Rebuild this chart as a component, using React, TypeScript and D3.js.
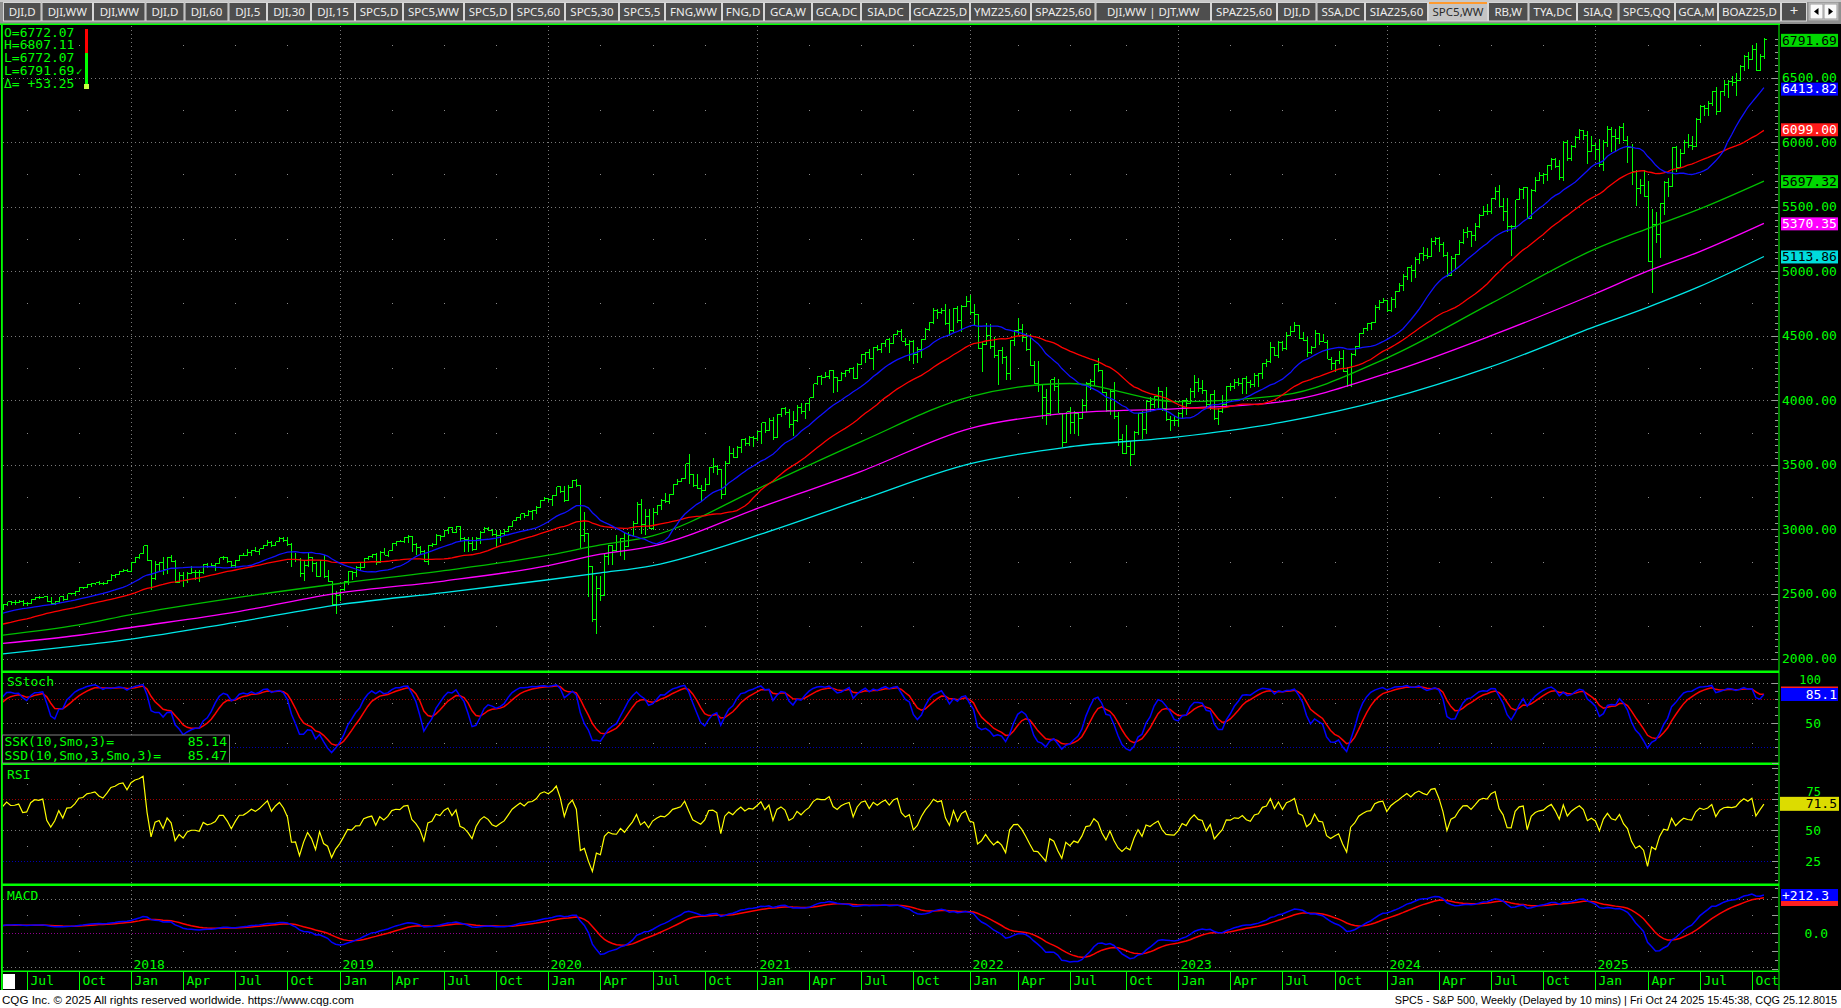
import React, { useMemo } from "react";
import * as d3 from "d3";

// ================= DATA =================
// Weekly bars (Fridays), first bar 2016-08-19 (early bars are warm-up, off-screen left)
const FIRST_BAR = "2016-08-19";

const C16 = [2184,2169,2180,2128,2139,2165,2168,2153,2133,2141,2126,2085,2164,2182,2213,2192,2260,2258,2264,2239];
const H16 = [2193,2188,2184,2188,2150,2176,2175,2170,2161,2147,2151,2128,2182,2189,2214,2214,2260,2278,2273,2273];
const L16 = [2173,2160,2157,2127,2119,2137,2145,2142,2114,2124,2122,2083,2084,2151,2183,2187,2192,2248,2256,2233];

const C17 = [2277,2275,2271,2295,2297,2316,2351,2367,2383,2372,2378,2344,2363,2355,2329,2349,2384,2399,2391,2382,2416,2439,2432,2433,2438,2423,2425,2459,2473,2472,2477,2441,2426,2443,2477,2461,2500,2502,2519,2549,2553,2575,2581,2588,2582,2579,2603,2642,2652,2675,2684,2674];
const H17 = [2282,2279,2276,2301,2299,2319,2352,2368,2401,2382,2390,2382,2371,2378,2359,2361,2398,2400,2404,2406,2419,2440,2446,2454,2453,2450,2436,2463,2479,2484,2480,2480,2474,2448,2480,2475,2500,2508,2520,2553,2557,2575,2582,2588,2598,2591,2605,2657,2652,2680,2695,2692];
const L17 = [2245,2258,2258,2267,2267,2287,2311,2348,2359,2359,2360,2336,2322,2344,2328,2322,2356,2380,2386,2353,2386,2407,2415,2418,2429,2405,2407,2420,2456,2460,2466,2437,2417,2418,2428,2446,2462,2495,2488,2519,2541,2547,2555,2566,2566,2566,2576,2601,2624,2650,2677,2673];

const C18 = [2743,2786,2810,2873,2762,2620,2732,2747,2691,2786,2752,2588,2641,2604,2656,2670,2670,2663,2728,2713,2721,2735,2779,2780,2755,2718,2760,2801,2802,2819,2840,2833,2850,2875,2902,2872,2905,2930,2914,2886,2767,2768,2659,2723,2781,2736,2633,2760,2633,2600,2417,2486];
const H18 = [2744,2787,2811,2873,2870,2763,2754,2747,2789,2786,2802,2761,2674,2672,2674,2718,2683,2682,2732,2742,2742,2739,2779,2791,2789,2752,2764,2804,2816,2848,2841,2863,2852,2877,2916,2907,2906,2941,2940,2940,2895,2817,2778,2767,2816,2788,2746,2760,2800,2685,2601,2520];
const L18 = [2683,2737,2768,2808,2759,2533,2605,2679,2647,2658,2749,2585,2594,2553,2586,2654,2612,2594,2653,2701,2707,2676,2735,2764,2742,2698,2699,2764,2796,2802,2795,2825,2802,2850,2876,2864,2871,2901,2903,2874,2710,2749,2628,2603,2710,2671,2631,2649,2621,2593,2409,2346];

const C19 = [2532,2596,2671,2665,2707,2708,2776,2793,2804,2743,2822,2801,2834,2893,2907,2905,2940,2946,2881,2860,2826,2752,2873,2887,2950,2942,2990,3014,2977,3026,2932,2919,2889,2847,2926,2979,3007,2992,2962,2952,2970,2986,3023,3067,3093,3120,3110,3141,3146,3169,3221,3240];
const H19 = [2539,2604,2675,2681,2716,2738,2776,2794,2813,2816,2831,2860,2836,2894,2910,2918,2940,2954,2932,2892,2875,2840,2876,2895,2964,2959,2996,3017,3018,3028,3027,2945,2943,2939,2941,2985,3021,3022,3003,2992,2993,3000,3027,3067,3097,3121,3127,3154,3150,3183,3226,3248];
const L19 = [2443,2524,2570,2612,2631,2677,2703,2764,2775,2723,2737,2800,2785,2849,2873,2899,2894,2898,2825,2801,2805,2750,2728,2861,2885,2911,2963,2967,2972,2970,2914,2822,2825,2834,2853,2891,2975,2985,2946,2856,2892,2960,2994,3023,3066,3075,3091,3111,3070,3119,3183,3222];

const C20 = [3235,3265,3330,3295,3226,3328,3380,3338,2954,2972,2711,2305,2541,2489,2790,2875,2837,2831,2930,2864,2955,3044,3194,3041,3098,3009,3130,3185,3225,3216,3271,3351,3373,3397,3508,3427,3341,3319,3298,3348,3477,3484,3465,3270,3510,3585,3558,3638,3699,3663,3709,3703,3756];
const H20 = [3246,3268,3330,3338,3333,3347,3385,3393,3260,3137,2882,2562,2637,2641,2819,2880,2870,2955,2933,2969,2980,3068,3211,3233,3156,3155,3166,3190,3238,3280,3272,3352,3387,3399,3509,3588,3425,3429,3343,3397,3482,3550,3502,3465,3529,3646,3628,3646,3701,3712,3726,3723,3760];
const L20 = [3213,3181,3256,3280,3214,3226,3324,3328,2855,2901,2479,2281,2192,2447,2493,2727,2727,2822,2798,2766,2912,2984,3044,2966,2958,3004,2999,3115,3153,3201,3198,3285,3345,3365,3387,3349,3330,3313,3209,3323,3354,3441,3424,3233,3279,3511,3550,3564,3594,3645,3648,3636,3687];

const C21 = [3825,3768,3841,3714,3887,3934,3907,3811,3842,3943,3913,3975,4020,4129,4185,4180,4181,4233,4174,4156,4204,4230,4247,4166,4281,4352,4370,4327,4412,4395,4437,4468,4442,4509,4535,4459,4433,4455,4357,4391,4471,4545,4605,4698,4683,4698,4595,4538,4712,4621,4726,4766];
const H21 = [3826,3819,3861,3870,3894,3937,3950,3931,3914,3960,3983,3978,4020,4129,4191,4194,4218,4238,4236,4172,4218,4234,4249,4258,4287,4356,4372,4394,4415,4430,4441,4470,4481,4513,4545,4549,4486,4465,4466,4412,4475,4559,4608,4718,4707,4714,4743,4705,4713,4731,4740,4808];
const L21 = [3663,3750,3770,3694,3725,3874,3885,3789,3723,3831,3894,3853,3917,4034,4122,4118,4177,4168,4057,4062,4146,4184,4208,4164,4167,4271,4289,4322,4233,4380,4368,4416,4368,4436,4507,4456,4421,4305,4278,4288,4329,4465,4538,4595,4631,4672,4586,4495,4532,4600,4531,4723];

const C22 = [4677,4663,4398,4432,4501,4419,4349,4385,4329,4204,4463,4543,4546,4488,4393,4272,4132,4123,4024,3901,4158,4109,3901,3675,3912,3825,3899,3863,3962,4130,4145,4280,4228,4058,3924,4067,3873,3693,3586,3640,3583,3753,3901,3771,3993,3965,4026,4072,3934,3852,3845,3840];
const H22 = [4819,4749,4665,4453,4596,4590,4490,4386,4416,4347,4466,4546,4637,4593,4520,4513,4308,4307,4119,4090,4158,4177,4169,3837,3913,3950,3918,3884,4012,4140,4167,4280,4325,4218,4062,4077,4140,3907,3736,3806,3685,3762,3905,3920,4001,4029,4034,4100,4053,4101,3876,3878];
const L22 = [4662,4582,4396,4222,4451,4401,4327,4115,4279,4157,4161,4424,4507,4450,4381,4267,4124,4063,3859,3811,3876,4074,3901,3637,3705,3739,3743,3721,3861,3911,4080,4112,4218,4057,3907,3886,3857,3647,3584,3584,3492,3647,3733,3699,3737,3906,3937,3940,3919,3839,3764,3800];

const C23 = [3895,3999,3973,4071,4136,4090,4079,3970,4046,3862,3917,3971,4109,4105,4138,4133,4169,4136,4124,4192,4205,4282,4299,4410,4348,4450,4399,4505,4536,4582,4478,4464,4370,4406,4516,4457,4450,4320,4288,4309,4327,4224,4117,4358,4415,4514,4559,4595,4604,4719,4755,4770];
const H23 = [3906,4003,4015,4095,4195,4176,4156,4079,4048,4079,3937,4039,4110,4133,4164,4170,4170,4186,4155,4212,4212,4291,4323,4448,4409,4458,4456,4528,4578,4607,4584,4527,4490,4418,4541,4516,4511,4465,4339,4314,4385,4393,4259,4366,4418,4521,4560,4599,4609,4739,4778,4793];
const L23 = [3795,3852,3886,3968,4015,4061,4047,3943,3928,3847,3808,3901,3949,4069,4086,4114,4050,4048,4099,4104,4103,4166,4262,4289,4341,4328,4385,4389,4500,4528,4474,4458,4335,4356,4403,4431,4448,4318,4238,4216,4283,4223,4104,4103,4341,4406,4511,4537,4546,4600,4697,4750];

const C24 = [4697,4784,4840,4891,4959,5027,5006,5089,5137,5124,5117,5234,5254,5204,5123,4967,5100,5128,5223,5303,5305,5278,5347,5432,5465,5460,5567,5615,5505,5459,5346,5344,5554,5634,5648,5408,5626,5703,5738,5751,5815,5864,5808,5729,5995,5870,5969,6032,6090,6051,5931,5971];
const H24 = [4754,4803,4843,4907,4975,5030,5048,5111,5140,5189,5180,5261,5265,5264,5225,5150,5114,5134,5240,5325,5342,5315,5376,5447,5506,5524,5570,5655,5670,5566,5566,5358,5555,5643,5651,5651,5636,5733,5767,5763,5822,5879,5878,5862,6012,6018,5978,6044,6099,6085,6085,6050];
const L24 = [4682,4687,4714,4845,4843,4934,4920,4946,5057,5080,5091,5111,5203,5146,5107,4953,4963,5011,5125,5211,5257,5191,5234,5331,5429,5432,5446,5550,5497,5390,5306,5119,5330,5560,5560,5402,5406,5615,5703,5674,5696,5784,5796,5703,5696,5853,5853,5957,6016,6015,5832,5930];

const C25 = [5942,5827,5997,6101,6040,6026,6114,6013,5955,5770,5639,5667,5581,5074,5363,5282,5525,5686,5660,5958,5803,5912,6000,5977,5967,6173,6279,6260,6297,6389,6238,6389,6450,6466,6460,6481,6584,6664,6643,6715,6552,6664,6791.69];
const H25 = [5993,6021,6014,6128,6120,6101,6127,6147,6044,5986,5782,5716,5786,5695,5482,5459,5528,5700,5721,5959,5968,5944,6016,6059,6051,6187,6284,6290,6315,6395,6427,6395,6481,6479,6509,6532,6601,6672,6699,6750,6764,6681,6807.11];
const L25 = [5858,5809,5773,5963,5923,5923,5986,6008,5837,5667,5505,5597,5573,5069,4835,5220,5101,5433,5578,5775,5768,5842,5917,5952,5939,5982,6146,6201,6201,6281,6212,6252,6359,6344,6437,6360,6482,6552,6569,6634,6550,6550,6646];

const MA_DATES = ["2017-05-26","2017-10-06","2018-01-05","2018-07-06","2019-01-04","2019-07-05","2020-01-03","2020-04-03","2020-07-03","2021-01-08","2021-07-02","2022-01-07","2022-07-01","2023-01-06","2023-07-07","2024-01-05","2024-07-05","2025-01-03","2025-04-04","2025-07-03","2025-10-24"];
const GREEN_MA = [2181,2260,2340,2470,2581,2680,2800,2880,2950,3326,3680,4027,4130,3990,4040,4327,4750,5172,5330,5480,5697.32];
const MAGENTA_MA = [2117,2180,2240,2360,2508,2600,2720,2808,2870,3172,3450,3781,3900,3936,3990,4208,4500,4827,5000,5150,5370.35];
const CYAN_MA = [2035,2100,2150,2280,2417,2510,2610,2663,2720,2963,3230,3508,3640,3717,3830,4008,4260,4572,4720,4880,5113.86];

// Readouts shown on the chart
const OHLC_READOUT = ["O=6772.07", "H=6807.11", "L=6772.07", "L=6791.69", "\u0394= +53.25"];
const LAST_PRICE = 6791.69;
const MA_LAST = [6413.82, 6099.0, 5697.32, 5370.35, 5113.86];
const SSK_LAST = 85.14;
const SSD_LAST = 85.47;
const RSI_LAST = 71.5;
const MACD_LAST = 212.3;
const MACD_SIG_LAST = 190;

const PRICE_TICKS = [2000, 2500, 3000, 3500, 4000, 4500, 5000, 5500, 6000, 6500];
const MONTH_NAMES = ["Jan", "", "", "Apr", "", "", "Jul", "", "", "Oct", "", ""];

const TAB_LABELS = ["DJI,D","DJI,WW","DJI,WW","DJI,D","DJI,60","DJI,5","DJI,30","DJI,15","SPC5,D","SPC5,WW","SPC5,D","SPC5,60","SPC5,30","SPC5,5","FNG,WW","FNG,D","GCA,W","GCA,DC","SIA,DC","GCAZ25,D","YMZ25,60","SPAZ25,60","DJI,WW  |  DJT,WW","SPAZ25,60","DJI,D","SSA,DC","SIAZ25,60","SPC5,WW","RB,W","TYA,DC","SIA,Q","SPC5,QQ","GCA,M","BOAZ25,D","+"];
const TAB_WIDTHS = [38.5,51.5,52.5,39,44,38.5,44,44,48,61,48,53,54,46,57,42,48,49,49,60,61,64.5,115.5,66,39.5,48.5,63,60,40.5,48.5,41.5,56.5,43,63,26];
const ACTIVE_TAB = 27;

const FOOTER_LEFT = "CQG Inc. \u00a9 2025 All rights reserved worldwide. https://www.cqg.com";
const FOOTER_RIGHT = "SPC5 - S&P 500, Weekly (Delayed by 10 mins) | Fri Oct 24 2025 15:45:38, CQG 25.12.8015";

// ================= HELPERS =================
const MONO = "'DejaVu Sans Mono', monospace";
const UI = "'Noto Sans', 'DejaVu Sans', sans-serif";
const NARROW = "'Liberation Sans Narrow', 'Liberation Sans', sans-serif";
const GREEN = "#00ff00";

function smaCalc(a: number[], n: number) {
  return a.map((_, i) => (i < n - 1 ? null : (d3.sum(a.slice(i - n + 1, i + 1)) as number) / n));
}
function emaCalc(a: number[], n: number) {
  const k = 2 / (n + 1);
  let e = a[0];
  return a.map((v, i) => (e = i === 0 ? v : k * v + (1 - k) * e));
}
function smoCalc(a: (number | null)[], n: number) {
  let e: number | null = null;
  return a.map((v) => {
    if (v == null) return null;
    e = e == null ? v : (e * (n - 1) + v) / n;
    return e;
  });
}
function rsiCalc(c: number[], n: number) {
  const out: (number | null)[] = c.map(() => null);
  let ag = 0, al = 0;
  for (let i = 1; i < c.length; i++) {
    const d = c[i] - c[i - 1];
    const g = Math.max(d, 0), l = Math.max(-d, 0);
    if (i <= n) {
      ag += g / n; al += l / n;
      if (i === n) out[i] = 100 - 100 / (1 + ag / (al || 1e-9));
    } else {
      ag = (ag * (n - 1) + g) / n; al = (al * (n - 1) + l) / n;
      out[i] = 100 - 100 / (1 + ag / (al || 1e-9));
    }
  }
  return out;
}

export default function App() {
  const m = useMemo(() => {
    const parse = d3.timeParse("%Y-%m-%d");
    const closes = [...C16, ...C17, ...C18, ...C19, ...C20, ...C21, ...C22, ...C23, ...C24, ...C25];
    const highsR = [...H16, ...H17, ...H18, ...H19, ...H20, ...H21, ...H22, ...H23, ...H24, ...H25];
    const lowsR = [...L16, ...L17, ...L18, ...L19, ...L20, ...L21, ...L22, ...L23, ...L24, ...L25];
    const n = Math.min(closes.length, highsR.length, lowsR.length);
    const start = parse(FIRST_BAR) as Date;
    const dates = d3.range(n).map((i) => d3.timeDay.offset(start, 7 * i));
    const opens = closes.slice(0, n).map((c, i) => (i === 0 ? c : closes[i - 1]));
    const highs = highsR.slice(0, n).map((h, i) => Math.max(h, opens[i], closes[i]));
    const lows = lowsR.slice(0, n).map((l, i) => Math.min(l, opens[i], closes[i]));
    const cl = closes.slice(0, n);

    const x = d3.scaleTime().domain([parse("2018-01-05") as Date, parse("2025-01-03") as Date]).range([131, 1595.4]);
    const yP = d3.scaleLinear().domain([2000, 6500]).range([658.5, 77.5]);
    const yS = d3.scaleLinear().domain([0, 100]).range([763, 683]);
    const yR = d3.scaleLinear().domain([25, 75]).range([861, 799]);
    const yM = d3.scaleLinear().domain([0, 212.3]).range([933, 895]);

    // bars path
    let bp = "";
    for (let i = 0; i < n; i++) {
      const xi = Math.round(x(dates[i])) + 0.5;
      if (xi < 0) continue;
      bp += `M${xi},${yP(highs[i]).toFixed(1)}V${yP(lows[i]).toFixed(1)}`;
      bp += `M${xi - 2.5},${yP(opens[i]).toFixed(1)}H${xi}`;
      bp += `M${xi},${yP(closes[i]).toFixed(1)}H${xi + 2.5}`;
    }

    const sma20 = smaCalc(cl, 20);
    const sma40 = smaCalc(cl, 40);

    const lineGen = (ys: d3.ScaleLinear<number, number>, vals: (number | null)[]) =>
      d3.line<number>()
        .defined((i) => vals[i] != null)
        .x((i) => x(dates[i]))
        .y((i) => ys(vals[i] as number))(d3.range(n)) || "";

    const maDates = MA_DATES.map((d) => parse(d) as Date);
    const sampled = (vals: number[]) =>
      d3.line<number>().curve(d3.curveMonotoneX).x((i) => x(maDates[i])).y((i) => yP(vals[i]))(d3.range(vals.length)) || "";

    const rawK = cl.map((c, i) => {
      if (i < 9) return null;
      const hh = d3.max(highs.slice(i - 9, i + 1)) as number;
      const ll = d3.min(lows.slice(i - 9, i + 1)) as number;
      return hh === ll ? 50 : ((c - ll) / (hh - ll)) * 100;
    });
    const ssk = smoCalc(rawK, 3);
    const ssd = smoCalc(ssk, 3);
    const rsi = rsiCalc(cl, 10);
    const e12 = emaCalc(cl, 12), e26 = emaCalc(cl, 26);
    const macd = e12.map((v, i) => v - e26[i]);
    const sig = emaCalc(macd, 9);

    // month ticks
    const ticks: { x: number; m: number; y: number }[] = [];
    for (let i = 1; i < n; i++) {
      const mo = dates[i].getMonth();
      if (mo !== dates[i - 1].getMonth() && mo % 3 === 0) {
        const xi = Math.round(x(dates[i])) + 0.5;
        if (xi > 4 && xi < 1778) ticks.push({ x: xi, m: mo, y: dates[i].getFullYear() });
      }
    }

    return {
      bp, x, yP, yS, yR, yM, ticks,
      blue: lineGen(yP, sma20), red: lineGen(yP, sma40),
      green: sampled(GREEN_MA), magenta: sampled(MAGENTA_MA), cyan: sampled(CYAN_MA),
      sskP: lineGen(yS, ssk), ssdP: lineGen(yS, ssd), rsiP: lineGen(yR, rsi),
      macdP: lineGen(yM, macd), sigP: lineGen(yM, sig),
    };
  }, []);

  const { yP, yS, yR, yM, ticks } = m;
  const dotted = "#7a7a7a";

  // tabs
  let tx = 3;
  const tabs = TAB_LABELS.map((lab, i) => {
    const w = TAB_WIDTHS[i];
    const t = { lab, x: tx, w, active: i === ACTIVE_TAB };
    tx += w;
    return t;
  });

  const priceLevelsHalf = d3.range(2250, 6800, 500);
  const minorPrice = d3.range(2000, 6801, 50);

  const priceBoxes = [
    { v: LAST_PRICE, fill: "#00d800", text: "#000" },
    { v: MA_LAST[0], fill: "#0000ff", text: "#fff" },
    { v: MA_LAST[1], fill: "#ff1a1a", text: "#fff" },
    { v: MA_LAST[2], fill: "#00d800", text: "#000" },
    { v: MA_LAST[3], fill: "#ff00ff", text: "#fff" },
    { v: MA_LAST[4], fill: "#00dcdc", text: "#000" },
  ];

  return (
    <svg width={1841} height={1008} style={{ position: "absolute", left: 0, top: 0, display: "block" }}>
      <style>{"body{margin:0;background:#000}"}</style>
      <defs>
        <clipPath id="cpP"><rect x={3} y={25} width={1776} height={646} /></clipPath>
        <clipPath id="cpS"><rect x={3} y={673} width={1776} height={90} /></clipPath>
        <clipPath id="cpR"><rect x={3} y={765} width={1776} height={119} /></clipPath>
        <clipPath id="cpM"><rect x={3} y={886} width={1776} height={84} /></clipPath>
      </defs>
      <rect x={0} y={0} width={1841} height={1008} fill="#000" />

      {/* ---------- tab bar ---------- */}
      <rect x={0} y={0} width={1841} height={24} fill="#8e8e8e" />
      <rect x={0} y={0} width={1841} height={2} fill="#c8c8c8" />
      {tabs.map((t, i) => (
        <g key={i}>
          <rect x={t.x + 0.5} y={2.5} width={t.w - 1} height={18.5} fill={t.active ? "#c4c4c4" : "#4e4e4e"} stroke="#d6d6d6" strokeWidth={1} />
          {t.active && <rect x={t.x + 1} y={2} width={t.w - 2} height={2} fill="#ff9a2e" />}
          <text x={t.x + t.w / 2} y={16} textAnchor="middle" fontFamily={UI} fontSize={i === TAB_LABELS.length - 1 ? 15 : 11.5} fill={t.active ? "#2a2a2a" : "#ececec"}>{t.lab}</text>
        </g>
      ))}
      <rect x={1809} y={3} width={29} height={17} fill="#efefef" stroke="#b0b0b0" />
      <rect x={1810} y={4} width={13} height={15} fill="#fafafa" stroke="#9a9a9a" />
      <rect x={1824} y={4} width={13} height={15} fill="#fafafa" stroke="#9a9a9a" />
      <path d="M1814,11.5L1818.5,8V15Z" fill="#000" />
      <path d="M1833,11.5L1828.5,8V15Z" fill="#000" />

      {/* ---------- grids ---------- */}
      {PRICE_TICKS.map((v) => (
        <line key={"gp" + v} x1={3} x2={1772} y1={Math.round(yP(v)) + 0.5} y2={Math.round(yP(v)) + 0.5} stroke={dotted} strokeDasharray="1 3" />
      ))}
      {ticks.filter((t) => t.m === 0).map((t) => (
        <line key={"gy" + t.y} x1={t.x} x2={t.x} y1={26} y2={970} stroke={dotted} strokeDasharray="1 3" />
      ))}
      {ticks.filter((t) => t.m !== 0).map((t, i) => (
        <g key={"qd" + i} fill="#8a8a8a">
          {priceLevelsHalf.map((lv) => <rect key={lv} x={t.x - 0.5} y={Math.round(yP(lv))} width={1} height={1} />)}
          <rect x={t.x - 0.5} y={Math.round(yS(75))} width={1} height={1} />
          <rect x={t.x - 0.5} y={Math.round(yS(25))} width={1} height={1} />
          <rect x={t.x - 0.5} y={Math.round(yR(87.5))} width={1} height={1} />
          <rect x={t.x - 0.5} y={Math.round(yR(62.5))} width={1} height={1} />
          <rect x={t.x - 0.5} y={Math.round(yR(37.5))} width={1} height={1} />
          <rect x={t.x - 0.5} y={Math.round(yM(100))} width={1} height={1} />
          <rect x={t.x - 0.5} y={Math.round(yM(-100))} width={1} height={1} />
        </g>
      ))}
      {/* stoch grid */}
      <line x1={3} x2={1772} y1={683.5} y2={683.5} stroke={dotted} strokeDasharray="1 3" />
      <line x1={3} x2={1778} y1={699.5} y2={699.5} stroke="#a00000" strokeDasharray="1 2" />
      <line x1={3} x2={1772} y1={723.5} y2={723.5} stroke={dotted} strokeDasharray="1 3" />
      <line x1={3} x2={1778} y1={747.5} y2={747.5} stroke="#0000b0" strokeDasharray="1 2" />
      {/* rsi grid */}
      <line x1={3} x2={1778} y1={Math.round(yR(75)) + 0.5} y2={Math.round(yR(75)) + 0.5} stroke="#a00000" strokeDasharray="1 2" />
      <line x1={3} x2={1772} y1={Math.round(yR(50)) + 0.5} y2={Math.round(yR(50)) + 0.5} stroke={dotted} strokeDasharray="1 3" />
      <line x1={3} x2={1778} y1={Math.round(yR(25)) + 0.5} y2={Math.round(yR(25)) + 0.5} stroke="#0000b0" strokeDasharray="1 2" />
      {/* macd grid */}
      <line x1={3} x2={1772} y1={899.5} y2={899.5} stroke={dotted} strokeDasharray="1 3" />
      <line x1={3} x2={1778} y1={933.5} y2={933.5} stroke="#900090" strokeDasharray="1 2" />
      <line x1={3} x2={1772} y1={967.5} y2={967.5} stroke={dotted} strokeDasharray="1 3" />

      {/* ---------- price panel ---------- */}
      <g clipPath="url(#cpP)">
        <path d={m.bp} stroke={GREEN} strokeWidth={1} fill="none" shapeRendering="crispEdges" />
        <path d={m.cyan} stroke="#00e8e8" strokeWidth={1.3} fill="none" />
        <path d={m.magenta} stroke="#ff00ff" strokeWidth={1.3} fill="none" />
        <path d={m.green} stroke="#00c000" strokeWidth={1.3} fill="none" />
        <path d={m.red} stroke="#ff0000" strokeWidth={1.3} fill="none" />
        <path d={m.blue} stroke="#1010ff" strokeWidth={1.3} fill="none" />
      </g>

      {/* ---------- indicators ---------- */}
      <g clipPath="url(#cpS)">
        <path d={m.ssdP} stroke="#ff0000" strokeWidth={1.5} fill="none" />
        <path d={m.sskP} stroke="#0000ff" strokeWidth={1.5} fill="none" />
      </g>
      <g clipPath="url(#cpR)">
        <path d={m.rsiP} stroke="#ffff00" strokeWidth={1.2} fill="none" />
      </g>
      <g clipPath="url(#cpM)">
        <path d={m.sigP} stroke="#ff0000" strokeWidth={1.5} fill="none" />
        <path d={m.macdP} stroke="#0000ff" strokeWidth={1.5} fill="none" />
      </g>

      {/* ---------- panel separators & borders ---------- */}
      <rect x={0} y={23.5} width={1780} height={1.5} fill={GREEN} />
      <rect x={2} y={670.5} width={1777} height={2.5} fill={GREEN} />
      <rect x={2} y={762.5} width={1777} height={2.5} fill={GREEN} />
      <rect x={2} y={883.5} width={1777} height={2.5} fill={GREEN} />
      <rect x={1} y={24} width={1.8} height={966} fill={GREEN} />
      <rect x={1778.5} y={24} width={1} height={966} fill={GREEN} />
      <rect x={2} y={970.5} width={1777} height={1.5} fill={GREEN} />

      {/* right axis ticks */}
      {minorPrice.map((v) => (
        <line key={"mt" + v} x1={v % 500 === 0 ? 1772 : 1775} x2={1778} y1={Math.round(yP(v)) + 0.5} y2={Math.round(yP(v)) + 0.5} stroke="#9a9a9a" />
      ))}
      {d3.range(0, 101, 10).map((v) => (
        <line key={"st" + v} x1={v % 50 === 0 ? 1772 : 1775} x2={1778} y1={Math.round(yS(v)) + 0.5} y2={Math.round(yS(v)) + 0.5} stroke="#9a9a9a" />
      ))}
      {d3.range(10, 101, 5).map((v) => (
        <line key={"rt" + v} x1={v % 25 === 0 ? 1772 : 1775} x2={1778} y1={Math.round(yR(v)) + 0.5} y2={Math.round(yR(v)) + 0.5} stroke="#9a9a9a" />
      ))}
      {d3.range(-200, 251, 50).map((v) => (
        <line key={"mct" + v} x1={v % 100 === 0 ? 1772 : 1775} x2={1778} y1={Math.round(yM(v)) + 0.5} y2={Math.round(yM(v)) + 0.5} stroke="#9a9a9a" />
      ))}

      {/* price axis labels */}
      {PRICE_TICKS.map((v) => (
        <text key={"pl" + v} x={1782} y={yP(v) + 4.5} fontFamily={MONO} fontSize={13} fill={GREEN}>{v.toFixed(2)}</text>
      ))}
      {priceBoxes.map((b, i) => (
        <g key={"pb" + i}>
          <rect x={1781} y={yP(b.v) - 6} width={57} height={13} fill={b.fill} />
          <text x={1782} y={yP(b.v) + 4.8} fontFamily={MONO} fontSize={13} fill={b.text}>{b.v.toFixed(2)}</text>
        </g>
      ))}

      {/* indicator axis labels */}
      <text x={1821} y={683.5} textAnchor="end" fontFamily={MONO} fontSize={12} fill={GREEN}>100</text>
      <text x={1821} y={yS(50) + 4.5} textAnchor="end" fontFamily={MONO} fontSize={13} fill={GREEN}>50</text>
      <rect x={1781} y={686.5} width={57} height={14} fill="#ff2020" />
      <rect x={1781} y={688} width={57} height={13} fill="#0000ff" />
      <text x={1837} y={699} textAnchor="end" fontFamily={MONO} fontSize={13} fill="#fff">{SSK_LAST.toFixed(1)}</text>

      <text x={1821} y={795.5} textAnchor="end" fontFamily={MONO} fontSize={12} fill={GREEN}>75</text>
      <text x={1821} y={yR(50) + 4.5} textAnchor="end" fontFamily={MONO} fontSize={13} fill={GREEN}>50</text>
      <text x={1821} y={yR(25) + 4.5} textAnchor="end" fontFamily={MONO} fontSize={13} fill={GREEN}>25</text>
      <rect x={1780} y={yR(RSI_LAST) - 6.5} width={59} height={14} fill="#dcdc00" />
      <text x={1837} y={yR(RSI_LAST) + 5} textAnchor="end" fontFamily={MONO} fontSize={13} fill="#000">{RSI_LAST.toFixed(1)}</text>

      <text x={1828} y={yM(0) + 4.5} textAnchor="end" fontFamily={MONO} fontSize={13} fill={GREEN}>0.0</text>
      <rect x={1781} y={yM(MACD_SIG_LAST) - 7} width={57} height={14} fill="#ff2020" />
      <rect x={1781} y={yM(MACD_LAST) - 6} width={57} height={12} fill="#0000ff" />
      <text x={1782} y={yM(MACD_LAST) + 4.7} fontFamily={MONO} fontSize={13} fill="#fff">{"+" + MACD_LAST.toFixed(1)}</text>

      {/* panel titles */}
      <text x={7} y={686} fontFamily={MONO} fontSize={13} fill={GREEN}>SStoch</text>
      <text x={7} y={778.5} fontFamily={MONO} fontSize={13} fill={GREEN}>RSI</text>
      <text x={7} y={899.5} fontFamily={MONO} fontSize={13} fill={GREEN}>MACD</text>

      {/* stoch readout box */}
      <rect x={2.5} y={735} width={227} height={28} fill="#000" stroke="#808080" />
      <text x={4.5} y={746} fontFamily={MONO} fontSize={13} fill={GREEN}>SSK(10,Smo,3)=</text>
      <text x={227} y={746} textAnchor="end" fontFamily={MONO} fontSize={13} fill={GREEN}>{SSK_LAST.toFixed(2)}</text>
      <text x={4.5} y={759.5} fontFamily={MONO} fontSize={13} fill={GREEN}>SSD(10,Smo,3,Smo,3)=</text>
      <text x={227} y={759.5} textAnchor="end" fontFamily={MONO} fontSize={13} fill={GREEN}>{SSD_LAST.toFixed(2)}</text>

      {/* OHLC readout */}
      {OHLC_READOUT.map((t, i) => (
        <text key={"ro" + i} x={4} y={36.5 + i * 12.9} fontFamily={MONO} fontSize={13} fill={GREEN}>{t}</text>
      ))}
      <text x={75.5} y={75} fontFamily={UI} fontSize={9} fill={GREEN}>{"\u2713"}</text>
      <rect x={85} y={29} width={3} height={24} fill="#ff0000" />
      <rect x={85} y={53} width={3} height={34} fill="#00ff00" />
      <rect x={84} y={84} width={5} height={5} fill="#c8ff40" />

      {/* ---------- time axis ---------- */}
      {ticks.filter((t) => t.m === 0).map((t) => (
        <g key={"yl" + t.y}>
          <rect x={t.x + 1} y={958} width={33} height={12} fill="#000" />
          <text x={t.x + 2} y={968.5} fontFamily={MONO} fontSize={13} fill={GREEN}>{t.y}</text>
        </g>
      ))}
      {ticks.map((t, i) => (
        <g key={"mt" + i}>
          <line x1={t.x} x2={t.x} y1={971} y2={990} stroke={GREEN} strokeWidth={1} />
          <text x={t.x + 3} y={984.5} fontFamily={MONO} fontSize={13} fill={GREEN}>{MONTH_NAMES[t.m]}</text>
        </g>
      ))}
      <rect x={3} y={974} width={12} height={15} fill="#fff" />

      {/* ---------- footer ---------- */}
      <rect x={0} y={990} width={1841} height={18} fill="#fff" />
      <text x={2} y={1003.5} fontFamily={NARROW} fontSize={11.6} fill="#000">{FOOTER_LEFT}</text>
      <text x={1837} y={1003.5} textAnchor="end" fontFamily={NARROW} fontSize={10.8} fill="#000">{FOOTER_RIGHT}</text>
    </svg>
  );
}
